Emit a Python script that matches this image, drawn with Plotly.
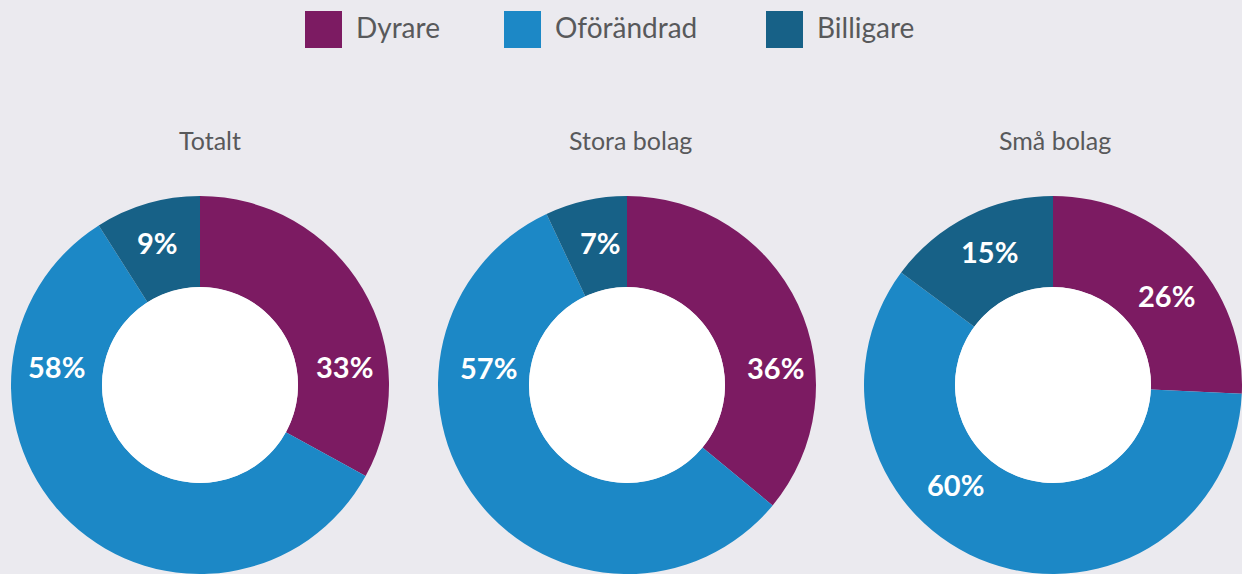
import plotly.graph_objects as go

# ---- data ----
categories = ["Dyrare", "Oförändrad", "Billigare"]
groups = ["Totalt", "Stora bolag", "Små bolag"]
totalt = [33, 58, 9]
stora_bolag = [36, 57, 7]
sma_bolag = [26, 60, 15]
series = [totalt, stora_bolag, sma_bolag]

# ---- style / layout ----
W, H = 1242, 574
colors = ["#7c1b62", "#1c88c6", "#176187"]
bg = "#ebeaef"
text_gray = "#58595b"
centers_x = [200, 627, 1053]   # pie centres in px
center_y = 385
radius = 189
hole_r = 98
title_x = [210, 630, 1055]
title_y = 140
# label offsets (px) from pie centre, per slice
label_offsets = [
    [(144, -19), (-144, -19), (-43, -142)],
    [(148, -18), (-139, -18), (-27, -142)],
    [(113, -90), (-98, 99), (-64, -133)],
]
legend_sq_x = [305, 504, 766]
legend_sq = 37
legend_sq_y = 11
legend_text_gap = 12
legend_text_y = 27

fig = go.Figure()
annotations = []
shapes = []

for i, (name, vals) in enumerate(zip(groups, series)):
    cx = centers_x[i]
    x0 = (cx - radius) / W
    x1 = min((cx + radius) / W, 1.0)
    y1 = (H - center_y + radius) / H
    y0 = max((H - center_y - radius) / H, 0.0)
    fig.add_trace(go.Pie(
        labels=categories, values=vals, name=name,
        hole=hole_r / radius, sort=False, direction="clockwise", rotation=0,
        marker=dict(colors=colors, line=dict(width=0)),
        textinfo="none", hoverinfo="label+percent", showlegend=False,
        domain=dict(x=[x0, x1], y=[y0, y1]),
    ))
    # white centre
    shapes.append(dict(
        type="circle", xref="paper", yref="paper",
        x0=(cx - hole_r) / W, x1=(cx + hole_r) / W,
        y0=(H - center_y - hole_r) / H, y1=(H - center_y + hole_r) / H,
        fillcolor="white", line=dict(width=0), layer="above",
    ))
    # title
    annotations.append(dict(
        text=name, x=title_x[i] / W, y=1 - title_y / H, xref="paper", yref="paper",
        showarrow=False, xanchor="center", yanchor="middle",
        font=dict(family="Lato", size=25, color=text_gray),
    ))
    # slice labels
    for v, (dx, dy) in zip(vals, label_offsets[i]):
        annotations.append(dict(
            text=f"{v}%", x=(cx + dx) / W, y=1 - (center_y + dy) / H,
            xref="paper", yref="paper", showarrow=False,
            xanchor="center", yanchor="middle",
            font=dict(family="Lato", size=29, color="white", weight=700),
        ))

# custom legend
for cat, col, lx in zip(categories, colors, legend_sq_x):
    shapes.append(dict(
        type="rect", xref="paper", yref="paper",
        x0=lx / W, x1=(lx + legend_sq) / W,
        y0=1 - (legend_sq_y + legend_sq) / H, y1=1 - legend_sq_y / H,
        fillcolor=col, line=dict(width=0),
    ))
    annotations.append(dict(
        text=cat, x=(lx + legend_sq + legend_text_gap) / W,
        y=1 - legend_text_y / H,
        xref="paper", yref="paper", showarrow=False,
        xanchor="left", yanchor="middle",
        font=dict(family="Lato", size=28, color=text_gray),
    ))

fig.update_layout(
    width=W, height=H,
    margin=dict(l=0, r=0, t=0, b=0),
    paper_bgcolor=bg, plot_bgcolor=bg,
    annotations=annotations, shapes=shapes,
    showlegend=False,
)

fig.write_html(
    "out.html",
    config={"displayModeBar": False},
    post_script=(
        "document.body.style.margin='0';"
        "document.body.style.padding='0';"
        "document.body.style.overflow='hidden';"
        f"document.body.style.background='{bg}';"
    ),
)
